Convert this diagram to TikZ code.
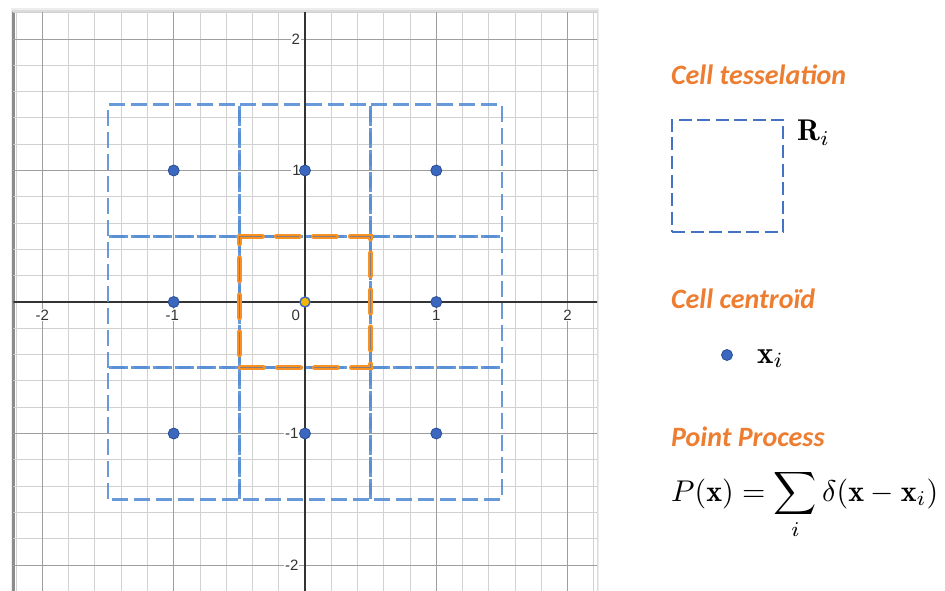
\documentclass[tikz,border=0pt]{standalone}
\usepackage{amsmath}
\usepackage{graphicx}
\usepackage{fontspec}
\newfontfamily\carlito{Carlito}
\newfontfamily\lsans{Liberation Sans}
\definecolor{cellblue}{RGB}{88,142,212}
\definecolor{dotblue}{RGB}{59,104,190}
\definecolor{dotedge}{RGB}{40,76,150}
\definecolor{legblue}{RGB}{68,114,196}
\definecolor{headorange}{RGB}{237,125,49}
\definecolor{cellorange}{RGB}{247,145,35}
\definecolor{coregray}{RGB}{115,122,140}
\definecolor{centeryellow}{RGB}{242,183,5}
\tikzset{
  minorline/.style={draw=black!18, line width=0.9pt},
  majorline/.style={draw=black!38, line width=0.9pt},
  axisline/.style={draw=black!80, line width=1.4pt},
  cellbox/.style={draw=cellblue, line width=2.6pt, dash pattern=on 16pt off 6pt, opacity=0.9},
  orangebox/.style={draw=cellorange, line width=5pt, dash pattern=on 23pt off 14pt, line cap=round},
  orangecore/.style={draw=coregray, line width=1pt, dash pattern=on 23pt off 14pt, opacity=0.85},
  pt/.style={circle, fill=dotblue, draw=dotedge, line width=0.8pt, minimum size=11pt, inner sep=0pt},
  ptc/.style={circle, fill=centeryellow, draw=dotblue, line width=1.4pt, minimum size=10pt, inner sep=0pt},
  axlab/.style={font=\lsans\fontsize{15}{15}\selectfont, text=black!80, fill=white, inner sep=0.8pt},
  head/.style={font=\carlito\bfseries\itshape\fontsize{28}{28}\selectfont, text=headorange, inner sep=0pt, text depth=0pt, anchor=base west},
  legbox/.style={draw=legblue, line width=1.8pt, dash pattern=on 13pt off 5.5pt, minimum width=111pt, minimum height=112pt, inner sep=0pt},
  mathlab/.style={inner sep=0pt}
}
\begin{document}
\begin{tikzpicture}[x=1pt,y=-1pt]
\useasboundingbox (0,0) rectangle (945,591);
% frame shadow
\fill[black!7] (11,8) rectangle (599,591);
\fill[black!14] (12,10) rectangle (598,591);
\fill[black!45] (11.5,12) rectangle (14.5,591);
\fill[white] (14.5,12) rectangle (597,591);
\begin{scope}[shift={(305pt,-302pt)}, x=131.3pt, y=131.5pt]
  \begin{scope}
    \clip (-2.222,-2.205) rectangle (2.225,2.205);
    \foreach \i in {-12,...,12} {
      \draw[minorline] (\i/5,-2.4) -- (\i/5,2.4);
      \draw[minorline] (-2.4,\i/5) -- (2.4,\i/5);
    }
    \foreach \i in {-2,-1,1,2} {
      \draw[majorline] (\i,-2.4) -- (\i,2.4);
      \draw[majorline] (-2.4,\i) -- (2.4,\i);
    }
    \draw[axisline] (-2.4,0) -- (2.4,0);
    \draw[axisline] (0,-2.4) -- (0,2.4);
  \end{scope}
  % axis labels
  \node[axlab] (xm2) at (-2.0,-0.1) {-2};
  \node[axlab] (xm1) at (-1.01,-0.1) {-1};
  \node[axlab] (x0) at (-0.07,-0.1) {0};
  \node[axlab] (x1) at (1.0,-0.1) {1};
  \node[axlab] (x2) at (2.0,-0.1) {2};
  \node[axlab] (y2) at (-0.07,2.0) {2};
  \node[axlab] (y1) at (-0.065,1.0) {1};
  \node[axlab] (ym1) at (-0.1,-1.0) {-1};
  \node[axlab] (ym2) at (-0.1,-2.0) {-2};
  % cells
  \foreach \cx in {-1,0,1} {
    \foreach \cy in {-1,0,1} {
      \draw[cellbox] (\cx-0.5,\cy-0.5) rectangle (\cx+0.5,\cy+0.5);
    }
  }
  \draw[orangebox] (-0.5,0.5) -- (0.5,0.5) -- (0.5,-0.5) -- (-0.5,-0.5) -- cycle;
  \draw[orangecore] (-0.5,0.5) -- (0.5,0.5) -- (0.5,-0.5) -- (-0.5,-0.5) -- cycle;
  % centroids
  \foreach \cx/\nx in {-1/m1,0/z,1/p1} {
    \foreach \cy/\ny in {-1/m1,0/z,1/p1} {
      \ifnum\cx=0 \ifnum\cy=0 \else
        \node[pt] (c\nx\ny) at (\cx,\cy) {};
      \fi \else
        \node[pt] (c\nx\ny) at (\cx,\cy) {};
      \fi
    }
  }
  \node[ptc] (czz) at (0,0) {};
\end{scope}
% legend
\node[head] (h1) at (671,85) {Cell tesselation};
\node[legbox] (sq) at (727.5,176) {};
\node[mathlab, anchor=base west] (ri) at (797,141) {\scalebox{3.0}{$\mathbf{R}_i$}};
\node[head] (h2) at (671,308) {Cell centroïd};
\node[pt] (ld) at (727,355) {};
\node[mathlab, anchor=base west] (xi) at (757,363) {\scalebox{3.1}{$\mathbf{x}_i$}};
\node[head] (h3) at (671,446) {Point Process};
\node[mathlab, anchor=base west] (pp) at (671,501) {\scalebox{3.0}{$\displaystyle P(\mathbf{x}) = \sum_i \delta(\mathbf{x}-\mathbf{x}_i)$}};
\end{tikzpicture}
\end{document}
